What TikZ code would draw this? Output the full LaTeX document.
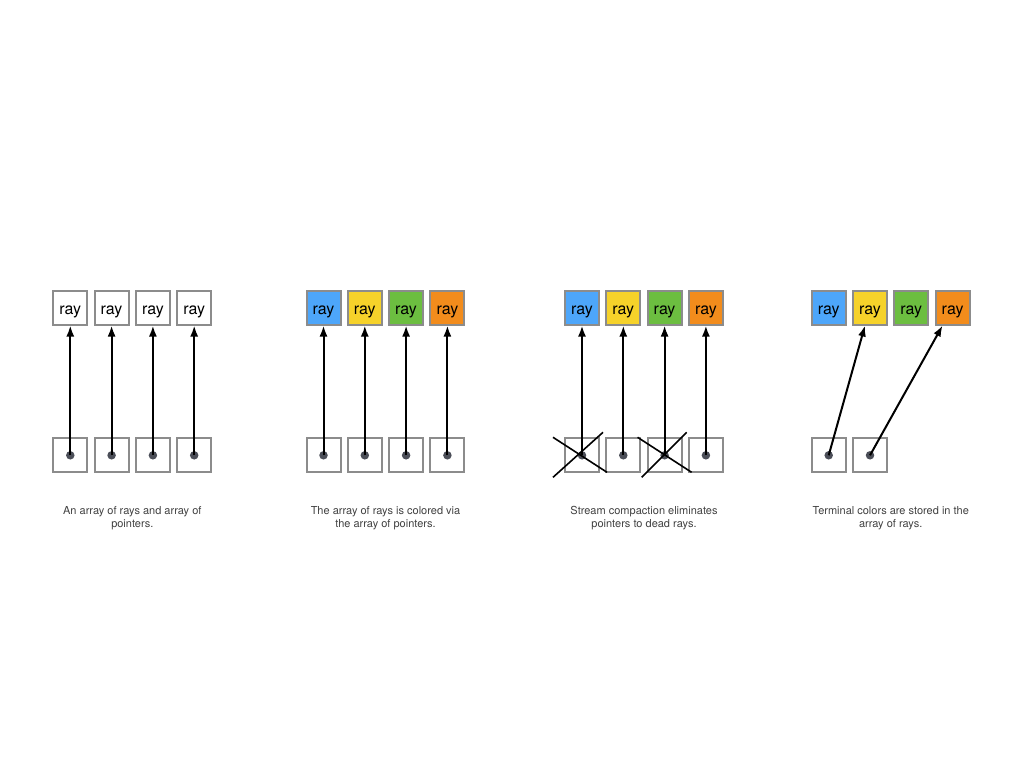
\documentclass[tikz,border=0pt]{standalone}
\usepackage{fontspec}
\setmainfont{TeX Gyre Heros}
\usetikzlibrary{arrows.meta}

\definecolor{rayblue}{RGB}{77,166,250}
\definecolor{rayyellow}{RGB}{246,210,42}
\definecolor{raygreen}{RGB}{108,190,64}
\definecolor{rayorange}{RGB}{242,140,28}
\definecolor{boxgray}{RGB}{140,140,140}
\definecolor{dotgray}{RGB}{75,78,88}

\begin{document}
\begin{tikzpicture}[x=1pt, y=-1pt]
\tikzset{ >={Latex[length=11pt,width=8pt]},
  cell/.style={draw=boxgray, line width=2pt, minimum size=34pt, inner sep=0pt, text height=13.5pt, text depth=0pt, font=\fontsize{16}{19}\selectfont},
  dot/.style={circle, fill=dotgray, minimum size=8.5pt, inner sep=0pt},
  ptr/.style={->, line width=2pt},
  caption/.style={align=center, font=\fontsize{11}{13}\selectfont, text=black!75},
}

\useasboundingbox (0,0) rectangle (1024,768);

% rays and pointers
\foreach \i in {1,...,4} {
  \node [cell] (a-r\i) at ({70.3+41.3*(\i-1)},307.5) {ray};
  \node [cell] (a-p\i) at ({70.3+41.3*(\i-1)},455.3) {};
  \node [dot]  (a-d\i) at (a-p\i) {};
  \draw [ptr] (a-d\i.center) -- (a-r\i);
}
\node [caption] (a-text) at (132.3,518.5) {An array of rays and array of\\pointers.};

% colored rays
\foreach \i/\c in {1/rayblue,2/rayyellow,3/raygreen,4/rayorange} {
  \node [cell, fill=\c] (b-r\i) at ({323.5+41.3*(\i-1)},307.5) {ray};
  \node [cell] (b-p\i) at ({323.5+41.3*(\i-1)},455.3) {};
  \node [dot]  (b-d\i) at (b-p\i) {};
  \draw [ptr] (b-d\i.center) -- (b-r\i);
}
\node [caption] (b-text) at (385.5,518.5) {The array of rays is colored via\\the array of pointers.};

% stream compaction
\foreach \i/\c in {1/rayblue,2/rayyellow,3/raygreen,4/rayorange} {
  \node [cell, fill=\c] (c-r\i) at ({582+41.3*(\i-1)},307.5) {ray};
  \node [cell] (c-p\i) at ({582+41.3*(\i-1)},455.3) {};
  \node [dot]  (c-d\i) at (c-p\i) {};
  \draw [ptr] (c-d\i.center) -- (c-r\i);
}
\draw [line width=1.6pt] (c-p1.center) ++(-29,-18) -- ++(54,35);
\draw [line width=1.6pt] (c-p1.center) ++(-29,22) -- ++(50,-45);
\draw [line width=1.6pt] (c-p3.center) ++(-27,-18) -- ++(54,35);
\draw [line width=1.6pt] (c-p3.center) ++(-23,22) -- ++(45,-45);
\node [caption] (c-text) at (644,518.5) {Stream compaction eliminates\\pointers to dead rays.};

% terminal colors
\foreach \i/\c in {1/rayblue,2/rayyellow,3/raygreen,4/rayorange} {
  \node [cell, fill=\c] (d-r\i) at ({828.7+41.3*(\i-1)},307.5) {ray};
}
\foreach \i in {1,2} {
  \node [cell] (d-p\i) at ({828.7+41.3*(\i-1)},455.3) {};
  \node [dot]  (d-d\i) at (d-p\i) {};
}
\draw [ptr] (d-d1.center) -- (d-r2);
\draw [ptr] (d-d2.center) -- (d-r4);
\node [caption] (d-text) at (890.7,518.5) {Terminal colors are stored in the\\array of rays.};

\end{tikzpicture}
\end{document}
